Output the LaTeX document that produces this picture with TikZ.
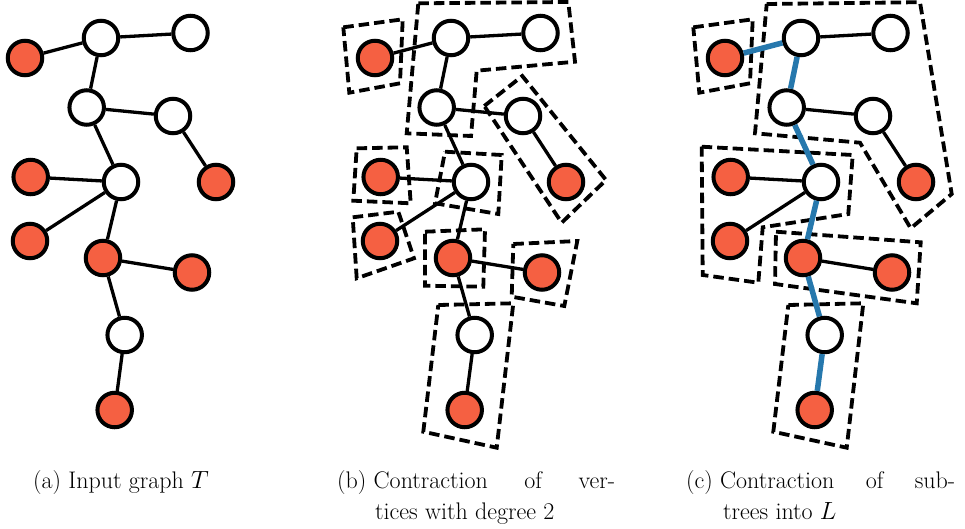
\documentclass[tikz,border=0pt]{standalone}
\usepackage{fontspec}
\definecolor{nred}{RGB}{245,96,66}
\definecolor{nblue}{RGB}{38,120,173}
\tikzset{
  wnode/.style={circle,draw=black,line width=4pt,fill=white,minimum size=34.5pt,inner sep=0pt},
  rnode/.style={wnode,fill=nred},
  edge/.style={draw=black,line width=3.3pt},
  spine/.style={draw=nblue,line width=5.5pt},
  grp/.style={draw=black,line width=3.8pt,dash pattern=on 10.5pt off 5pt,line join=miter},
  captext/.style={inner sep=0pt,font=\fontsize{24}{30}\selectfont}
}
\newcommand\mytree[3]{%
\begin{scope}[xshift=#2]
\node[wnode] (#1A1) at (101,38) {};
\node[wnode] (#1A2) at (190.5,33) {};
\node[rnode] (#1R1) at (25,58) {};
\node[wnode] (#1W3) at (86.7,107.5) {};
\node[wnode] (#1W4) at (173,116) {};
\node[wnode] (#1W5) at (121,182) {};
\node[rnode] (#1R2) at (216,182) {};
\node[rnode] (#1R3) at (30.7,177) {};
\node[rnode] (#1R4) at (30,241) {};
\node[rnode] (#1R5) at (103,258) {};
\node[rnode] (#1R6) at (192,272.5) {};
\node[wnode] (#1W6) at (124.7,335) {};
\node[rnode] (#1R7) at (114.7,410) {};
\draw[edge] (#1A1) -- (#1A2);
\draw[edge] (#1W3) -- (#1W4);
\draw[edge] (#1W4) -- (#1R2);
\draw[edge] (#1W5) -- (#1R3);
\draw[edge] (#1W5) -- (#1R4);
\draw[edge] (#1R5) -- (#1R6);
\draw[#3] (#1R1) -- (#1A1);
\draw[#3] (#1A1) -- (#1W3);
\draw[#3] (#1W3) -- (#1W5);
\draw[#3] (#1W5) -- (#1R5);
\draw[#3] (#1R5) -- (#1W6);
\draw[#3] (#1W6) -- (#1R7);
\end{scope}}
\begin{document}
\begin{tikzpicture}[x=1pt,y=-1pt]
\useasboundingbox (0,0) rectangle (965,528);
% groups, panel (b)
\draw[grp] (343.3,27.3) -- (402.7,19.3) -- (400,83.3) -- (349.3,92.7) -- cycle;
\draw[grp] (418.3,3.3) -- (568.3,2) -- (575,61.7) -- (476.7,70.7) -- (471,136) -- (406.7,133.3) -- cycle;
\draw[grp] (484.3,106) -- (522.3,76) -- (606,180) -- (561.7,222.7) -- cycle;
\draw[grp] (356.7,148.3) -- (406.7,147.3) -- (410.7,203.3) -- (353.3,200.7) -- cycle;
\draw[grp] (445,151.7) -- (501.7,155) -- (498.3,214) -- (435,203.3) -- cycle;
\draw[grp] (352.7,217.3) -- (398.3,211.7) -- (414,258.3) -- (356.7,278.3) -- cycle;
\draw[grp] (425,231.7) -- (485,229.3) -- (483.3,286.7) -- (425,285.7) -- cycle;
\draw[grp] (513.3,244) -- (577.3,241) -- (564.3,306) -- (511.7,296.7) -- cycle;
\draw[grp] (438.3,305) -- (513.3,303.3) -- (496.7,447.7) -- (423.3,431.7) -- cycle;
% groups, panel (c)
\draw[grp] (693.3,27.3) -- (752.7,19.3) -- (750,83.3) -- (699.3,92.7) -- cycle;
\draw[grp] (766.7,4) -- (920,2.2) -- (951.7,194) -- (910.7,228.3) -- (860,142.7) -- (755,133.3) -- cycle;
\draw[grp] (701.7,146.7) -- (852.7,155) -- (848.3,214) -- (762.7,227.3) -- (758.3,282.7) -- (702.7,275) -- cycle;
\draw[grp] (776,231.7) -- (920.7,242.3) -- (916.7,303.3) -- (775,284) -- cycle;
\draw[grp] (788.3,305) -- (863.3,303.3) -- (846.7,447.7) -- (773.3,431.7) -- cycle;
% trees
\mytree{a}{0}{edge}
\mytree{b}{350}{edge}
\mytree{c}{700}{spine}
% captions
\node[captext,anchor=base west] (capa) at (33,488) {(a) Input graph $T$};
\node[captext,anchor=base west] (capb1) at (337,488) {\hbox to 278pt{(b) Contraction\hfill of\hfill ver-}};
\node[captext,anchor=base west] (capb2) at (375,519) {tices with degree 2};
\node[captext,anchor=base west] (capc1) at (686,488) {\hbox to 269pt{(c) Contraction\hfill of\hfill sub-}};
\node[captext,anchor=base west] (capc2) at (723,519) {trees into $L$};
\end{tikzpicture}
\end{document}
